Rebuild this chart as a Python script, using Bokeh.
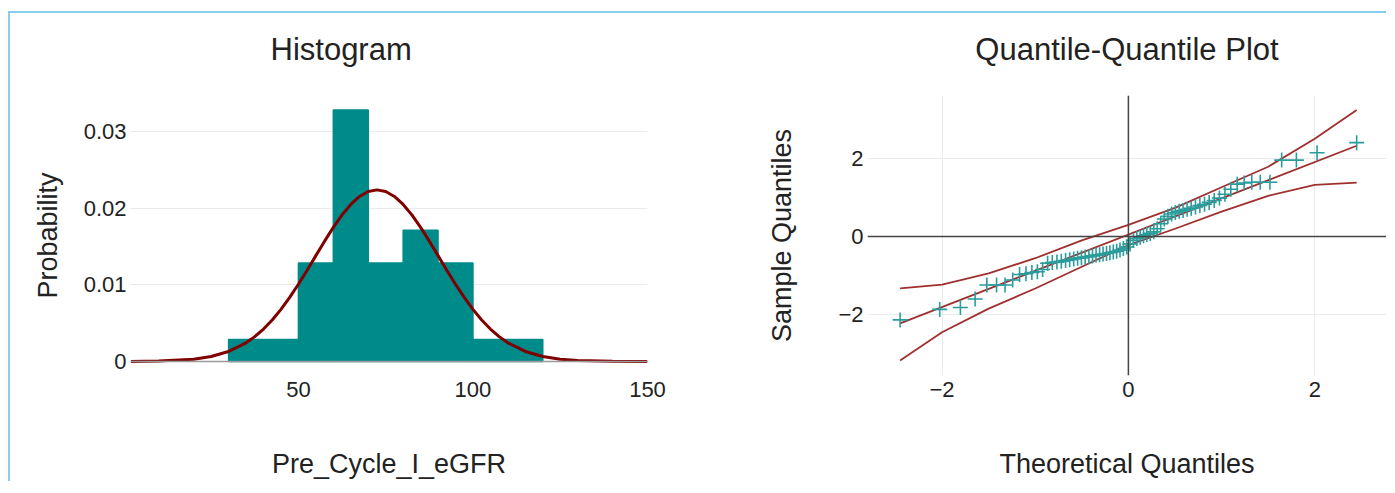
from bokeh.plotting import figure
from bokeh.layouts import row
from bokeh.models import FixedTicker, Range1d, Span
from bokeh.embed import file_html
from bokeh.resources import INLINE

# ---------------- data ----------------
bin_left = [30, 40, 50, 60, 70, 80, 90, 100, 110]
bin_counts = [2, 2, 9, 23, 9, 12, 9, 2, 2]
bin_width = 10

curve_x = [2, 10, 20, 25, 30, 35, 37.5, 40, 42.5, 45, 47.5, 50, 52.5, 55, 57.5, 60, 62.5, 65,
           67.5, 70, 72.5, 75, 77.5, 80, 82.5, 85, 87.5, 90, 92.5, 95, 97.5, 100, 102.5, 105,
           107.5, 110, 115, 120, 125, 130, 140, 150]
curve_y = [0.0, 0.00005, 0.00029, 0.00064, 0.0013, 0.00243, 0.00324, 0.00423, 0.00542, 0.0068,
           0.00836, 0.01008, 0.01192, 0.01382, 0.01571, 0.01751, 0.01914, 0.02051, 0.02155,
           0.02219, 0.02241, 0.02219, 0.02155, 0.02051, 0.01914, 0.01751, 0.01571, 0.01382,
           0.01192, 0.01008, 0.00836, 0.0068, 0.00542, 0.00423, 0.00324, 0.00243, 0.0013,
           0.00064, 0.00029, 0.00012, 0.00002, 0.0]

hist_yticks = [0, 0.01, 0.02, 0.03]
hist_ylabels = ["0", "0.01", "0.02", "0.03"]
hist_xticks = [50, 100, 150]

theo_q = [-2.450, -2.025, -1.803, -1.645, -1.519, -1.415, -1.324, -1.242, -1.168, -1.099,
          -1.036, -0.977, -0.921, -0.867, -0.817, -0.767, -0.720, -0.674, -0.630, -0.587,
          -0.545, -0.504, -0.464, -0.424, -0.385, -0.347, -0.309, -0.272, -0.235, -0.198,
          -0.162, -0.126, -0.090, -0.054, -0.018, 0.018, 0.054, 0.090, 0.126, 0.162,
          0.198, 0.235, 0.272, 0.309, 0.347, 0.385, 0.424, 0.464, 0.504, 0.545,
          0.587, 0.630, 0.674, 0.720, 0.767, 0.817, 0.867, 0.921, 0.977, 1.036,
          1.099, 1.168, 1.242, 1.324, 1.415, 1.519, 1.645, 1.803, 2.025, 2.450]
sample_q = [-2.15, -1.88, -1.83, -1.61, -1.25, -1.25, -1.25, -1.12, -0.98, -0.96,
            -0.93, -0.91, -0.85, -0.69, -0.67, -0.66, -0.64, -0.62, -0.60, -0.58,
            -0.56, -0.55, -0.53, -0.52, -0.50, -0.48, -0.47, -0.45, -0.44, -0.42,
            -0.40, -0.38, -0.35, -0.31, -0.27, -0.19, -0.10, -0.05, -0.02, 0.02,
            0.05, 0.08, 0.12, 0.20, 0.33, 0.45, 0.52, 0.58, 0.62, 0.65,
            0.67, 0.70, 0.73, 0.76, 0.80, 0.83, 0.88, 0.93, 0.99, 1.09,
            1.22, 1.35, 1.38, 1.40, 1.40, 1.40, 1.97, 1.97, 2.16, 2.42]

ref_x = [-2.45, 2.45]
ref_y = [-2.24, 2.34]

band_x = [-2.45, -2.0, -1.5, -1.0, -0.5, 0.0, 0.5, 1.0, 1.5, 2.0, 2.45]
band_upper = [-1.34, -1.24, -0.95, -0.56, -0.10, 0.30, 0.74, 1.27, 1.80, 2.52, 3.26]
band_lower = [-3.20, -2.47, -1.86, -1.34, -0.78, -0.22, 0.20, 0.64, 1.05, 1.33, 1.39]

qq_ticks = [-2, 0, 2]
qq_labels = ["\u22122", "0", "2"]

titles = ["Histogram", "Quantile-Quantile Plot"]

# ---------------- styling ----------------
FONT = "Liberation Sans"
TEXT = "#222222"
GRID = "#ebebeb"
TEAL = "#008b8b"
MARK = "#2a9c9c"
DARKRED = "#800000"
QQRED = "#a0302f"
FRAME_BLUE = "#86cfea"


def style(p, xlabel, ylabel, ylab_standoff):
    p.outline_line_color = None
    p.border_fill_color = None
    p.title.text_font = FONT
    p.title.text_font_size = "31px"
    p.title.text_font_style = "normal"
    p.title.text_color = TEXT
    p.title.standoff = 58
    for ax in (p.xaxis[0], p.yaxis[0]):
        ax.axis_line_color = None
        ax.major_tick_line_color = None
        ax.minor_tick_line_color = None
        ax.major_tick_out = 0
        ax.major_tick_in = 0
        ax.minor_tick_out = 0
        ax.major_label_text_font = FONT
        ax.major_label_text_font_size = "22px"
        ax.major_label_text_color = TEXT
        ax.axis_label_text_font = FONT
        ax.axis_label_text_font_size = "27px"
        ax.axis_label_text_font_style = "normal"
        ax.axis_label_text_color = TEXT
    p.xaxis[0].axis_label = xlabel
    p.yaxis[0].axis_label = ylabel
    p.xaxis[0].major_label_standoff = 6
    p.xaxis[0].axis_label_standoff = 49
    p.yaxis[0].major_label_standoff = 4
    p.yaxis[0].axis_label_standoff = ylab_standoff


FIG_H = 481

# ---------------- histogram ----------------
p1 = figure(width=692, height=FIG_H, output_backend="svg", toolbar_location=None,
            x_range=Range1d(1.9, 150), y_range=Range1d(-0.00184, 0.03474),
            min_border_left=122, min_border_right=53, min_border_top=95, min_border_bottom=90,
            title=titles[0])
style(p1, "Pre_Cycle_I_eGFR", "Probability", 18)
p1.title.align = "left"
p1.title.offset = 140
p1.xgrid.grid_line_color = None
p1.ygrid.grid_line_color = GRID
p1.ygrid.grid_line_width = 1
p1.yaxis[0].ticker = FixedTicker(ticks=hist_yticks)
p1.yaxis[0].major_label_overrides = dict(zip(hist_yticks, hist_ylabels))
p1.xaxis[0].ticker = FixedTicker(ticks=hist_xticks)

n_total = sum(bin_counts)
dens = [c / (n_total * bin_width) for c in bin_counts]
p1.quad(left=bin_left, right=[b + bin_width for b in bin_left], bottom=0, top=dens,
        fill_color=TEAL, line_color=TEAL, line_width=1.5)
p1.add_layout(Span(location=0, dimension="width", line_color="#9a9a9a", line_width=1.5))
p1.line(curve_x, curve_y, line_color=DARKRED, line_width=3)

# ---------------- QQ plot ----------------
p2 = figure(width=686, height=FIG_H, output_backend="svg", toolbar_location=None,
            x_range=Range1d(-2.80, 2.77), y_range=Range1d(-3.584, 3.636),
            min_border_left=167, min_border_right=0, min_border_top=95, min_border_bottom=90,
            title=titles[1])
style(p2, "Theoretical Quantiles", "Sample Quantiles", 38)
p2.title.align = "center"
p2.xgrid.grid_line_color = GRID
p2.ygrid.grid_line_color = GRID
p2.xaxis[0].ticker = FixedTicker(ticks=qq_ticks)
p2.yaxis[0].ticker = FixedTicker(ticks=qq_ticks)
p2.xaxis[0].major_label_overrides = dict(zip(qq_ticks, qq_labels))
p2.yaxis[0].major_label_overrides = dict(zip(qq_ticks, qq_labels))
p2.add_layout(Span(location=0, dimension="width", line_color="#444444", line_width=1.5))
p2.add_layout(Span(location=0, dimension="height", line_color="#444444", line_width=1.5))

p2.line(band_x, band_upper, line_color=QQRED, line_width=1.8)
p2.line(band_x, band_lower, line_color=QQRED, line_width=1.8)
p2.line(ref_x, ref_y, line_color=QQRED, line_width=1.8)
p2.scatter(theo_q, sample_q, marker="cross", size=15, line_color=MARK, line_width=1.6)

# light-blue frame lines (top and left) painted behind the transparent figure borders
grad = "linear-gradient(%s, %s)" % (FRAME_BLUE, FRAME_BLUE)
layout = row(p1, p2, margin=(0, 0, 0, 8),
             styles={"background-image": grad + ", " + grad,
                     "background-size": "100% 2px, 2px 100%",
                     "background-position": "0 11px, 0 11px",
                     "background-repeat": "no-repeat"})

open("out.html", "w").write(file_html(layout, INLINE))
